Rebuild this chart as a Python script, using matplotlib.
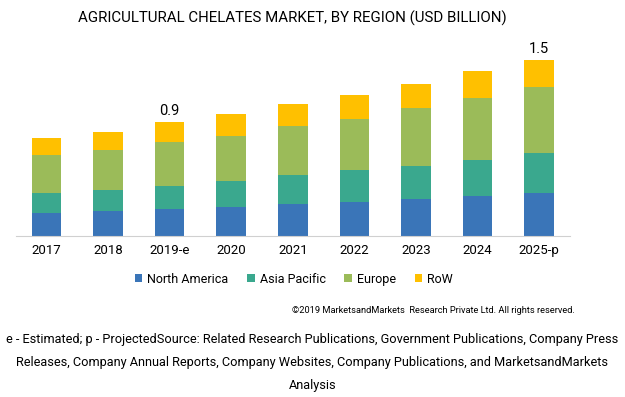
import matplotlib.pyplot as plt
import numpy as np

years = ['2017', '2018', '2019-e', '2020', '2021', '2022', '2023', '2024', '2025-p']
north_america = [0.20, 0.21, 0.23, 0.25, 0.27, 0.29, 0.32, 0.34, 0.37]
asia_pacific = [0.17, 0.18, 0.20, 0.22, 0.25, 0.27, 0.28, 0.31, 0.34]
europe = [0.32, 0.34, 0.37, 0.38, 0.42, 0.44, 0.49, 0.53, 0.56]
row = [0.15, 0.16, 0.17, 0.19, 0.19, 0.20, 0.21, 0.23, 0.23]
labels = {2: '0.9', 8: '1.5'}

series = [('North America', north_america, '#3A75B8'),
          ('Asia Pacific', asia_pacific, '#3AA88E'),
          ('Europe', europe, '#9BBB59'),
          ('RoW', row, '#FFC000')]

plt.rcParams['font.family'] = ['Roboto', 'DejaVu Sans']

fig = plt.figure(figsize=(6.25, 3.97), dpi=100)
ax = fig.add_axes([0.025, 0.4055, 0.887, 0.5165])

x = np.arange(len(years))
bottom = np.zeros(len(years))
for name, vals, color in series:
    ax.bar(x, vals, 0.48, bottom=bottom, color=color, label=name)
    bottom += np.array(vals)

for i, txt in labels.items():
    ax.text(x[i], bottom[i] + 0.04, txt, ha='center', va='bottom', fontsize=10.5)

ax.set_xlim(-0.5, len(years) - 0.5)
ax.set_ylim(0, 1.75)
ax.set_xticks(x)
ax.set_xticklabels(years, fontsize=9.5)
ax.tick_params(axis='x', length=0, pad=6)
ax.set_yticks([])
for s in ['top', 'right', 'left']:
    ax.spines[s].set_visible(False)
ax.spines['bottom'].set_color('#d0d0d0')

fig.text(0.468, 0.955, 'AGRICULTURAL CHELATES MARKET, BY REGION (USD BILLION)',
         ha='center', va='center', fontsize=10.8)

fig.legend(loc='center', bbox_to_anchor=(0.47, 0.297), ncol=4, frameon=False,
           fontsize=9, handlelength=0.6, handleheight=0.6, handletextpad=0.4,
           columnspacing=1.5)

fig.text(0.92, 0.218, '\u00a92019 MarketsandMarkets  Research Private Ltd. All rights reserved.',
         ha='right', va='center', fontsize=6.7)

foot = ['e - Estimated; p - ProjectedSource: Related Research Publications, Government Publications, Company Press',
        'Releases, Company Annual Reports, Company Websites, Company Publications, and MarketsandMarkets',
        'Analysis']
for k, line in enumerate(foot):
    fig.text(0.5, 0.146 - k * 0.059, line, ha='center', va='center', fontsize=9.2)

fig.savefig('out.png', dpi=100)
